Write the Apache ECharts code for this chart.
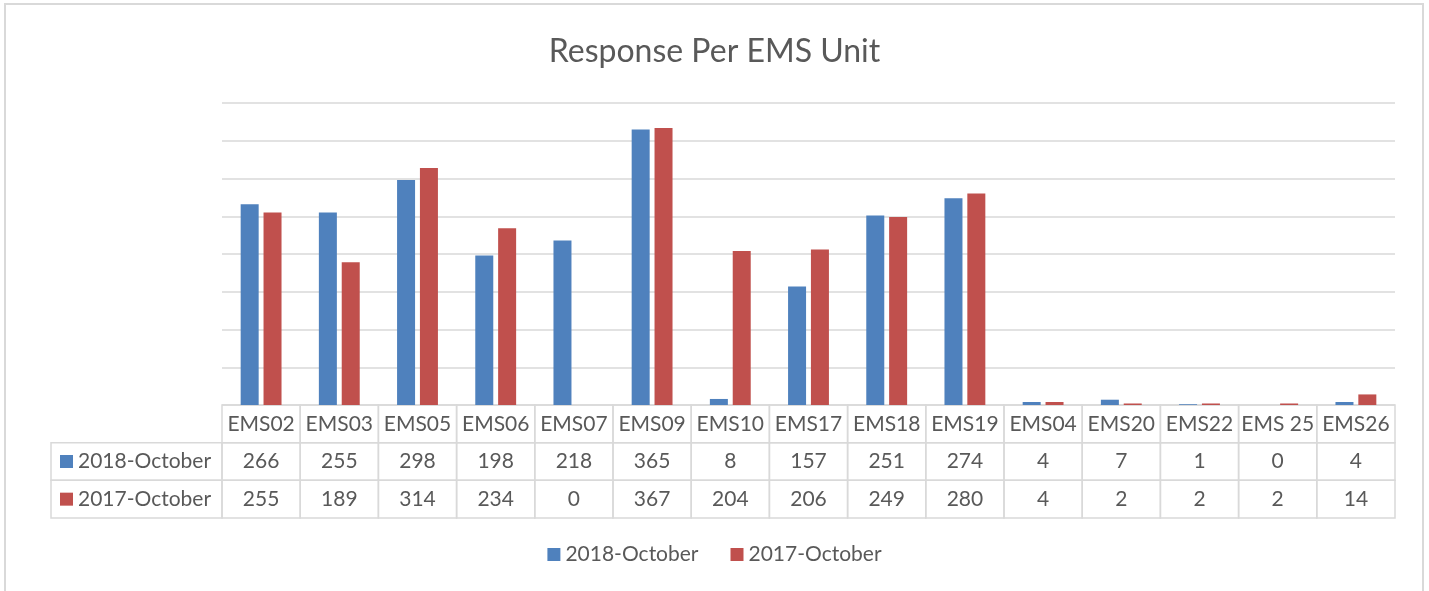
<!DOCTYPE html>
<html>
<head>
<meta charset="utf-8">
<script src="https://cdn.jsdelivr.net/npm/echarts@6/dist/echarts.min.js"></script>
<style>
  html, body { margin: 0; padding: 0; background: #fff; }
  #chart { width: 1429px; height: 591px; }
</style>
</head>
<body>
<div id="chart"></div>
<script>
// chart data
const categories = ['EMS02', 'EMS03', 'EMS05', 'EMS06', 'EMS07', 'EMS09', 'EMS10', 'EMS17', 'EMS18', 'EMS19', 'EMS04', 'EMS20', 'EMS22', 'EMS 25', 'EMS26']
const oct2018 = [266, 255, 298, 198, 218, 365, 8, 157, 251, 274, 4, 7, 1, 0, 4]
const oct2017 = [255, 189, 314, 234, 0, 367, 204, 206, 249, 280, 4, 2, 2, 2, 14]
const seriesNames = ['2018-October', '2017-October']
const seriesValues = [oct2018, oct2017]
const colors = ['#4f81bd', '#c0504d']

const fontFamily = 'Lato, "Open Sans", sans-serif'
const textColor = '#595959'
const lineColor = '#d9d9d9'
const tableFont = '21px ' + fontFamily

// one item per table cell: [column, row]
const tableCells = []
for (let i = 0; i < categories.length; i++) {
  for (let r = 0; r < 3; r++) {
    tableCells.push([i, r])
  }
}

function renderCell(params, api) {
  const col = api.value(0)
  const row = api.value(1)
  const p = api.coord([col, row])
  const size = api.size([1, 1])
  const x0 = p[0] - size[0] / 2
  const y0 = p[1] - size[1] / 2
  const label = row === 0 ? categories[col] : String(seriesValues[row - 1][col])
  const children = [{
    type: 'rect',
    shape: { x: x0, y: y0, width: size[0], height: size[1] },
    style: { fill: null, stroke: lineColor, lineWidth: 1.5 }
  }, {
    type: 'text',
    style: {
      x: p[0], y: p[1], text: label, align: 'center', verticalAlign: 'middle',
      fill: textColor, font: tableFont
    }
  }]
  // series name header on the left of the first column
  if (col === 0 && row > 0) {
    const hx = 51
    children.push({
      type: 'rect',
      shape: { x: hx, y: y0, width: x0 - hx, height: size[1] },
      style: { fill: null, stroke: lineColor, lineWidth: 1.5 }
    }, {
      type: 'rect',
      shape: { x: hx + 9, y: p[1] - 6.5, width: 13, height: 13 },
      style: { fill: colors[row - 1] }
    }, {
      type: 'text',
      style: {
        x: hx + 27, y: p[1], text: seriesNames[row - 1], align: 'left', verticalAlign: 'middle',
        fill: textColor, font: tableFont
      }
    })
  }
  return { type: 'group', children: children }
}

const chart = echarts.init(document.getElementById('chart'), null, { renderer: 'canvas' })

chart.setOption({
  animation: false,
  backgroundColor: '#fff',
  title: {
    text: 'Response Per EMS Unit',
    left: 'center',
    top: 31,
    textStyle: { fontFamily: fontFamily, fontSize: 32, fontWeight: 'normal', color: textColor }
  },
  legend: {
    data: seriesNames,
    bottom: 21,
    left: 'center',
    icon: 'rect',
    itemWidth: 13,
    itemHeight: 13,
    itemGap: 32,
    textStyle: { fontFamily: fontFamily, fontSize: 21, color: textColor }
  },
  graphic: [{
    type: 'rect',
    shape: { x: 5, y: 4, width: 1418, height: 620 },
    style: { fill: null, stroke: lineColor, lineWidth: 2 },
    silent: true
  }],
  grid: [
    { left: 222, right: 34, top: 103, height: 302 },
    { left: 222, right: 34, top: 405, height: 113 }
  ],
  xAxis: [{
    type: 'category',
    gridIndex: 0,
    data: categories,
    axisLine: { show: false },
    axisTick: { show: false },
    axisLabel: { show: false }
  }, {
    type: 'category',
    gridIndex: 1,
    data: categories,
    show: false
  }],
  yAxis: [{
    type: 'value',
    gridIndex: 0,
    min: 0,
    max: 400,
    interval: 50,
    axisLabel: { show: false },
    axisLine: { show: false },
    axisTick: { show: false },
    splitLine: { lineStyle: { color: lineColor, width: 1.5 } }
  }, {
    type: 'category',
    gridIndex: 1,
    data: ['category', seriesNames[0], seriesNames[1]],
    inverse: true,
    show: false
  }],
  series: [{
    name: seriesNames[0],
    type: 'bar',
    xAxisIndex: 0,
    yAxisIndex: 0,
    data: oct2018,
    barWidth: 18,
    barGap: '27%',
    itemStyle: { color: colors[0] }
  }, {
    name: seriesNames[1],
    type: 'bar',
    xAxisIndex: 0,
    yAxisIndex: 0,
    data: oct2017,
    barWidth: 18,
    barGap: '27%',
    itemStyle: { color: colors[1] }
  }, {
    type: 'custom',
    xAxisIndex: 1,
    yAxisIndex: 1,
    data: tableCells,
    renderItem: renderCell,
    clip: false,
    silent: true
  }]
})
</script>
</body>
</html>
